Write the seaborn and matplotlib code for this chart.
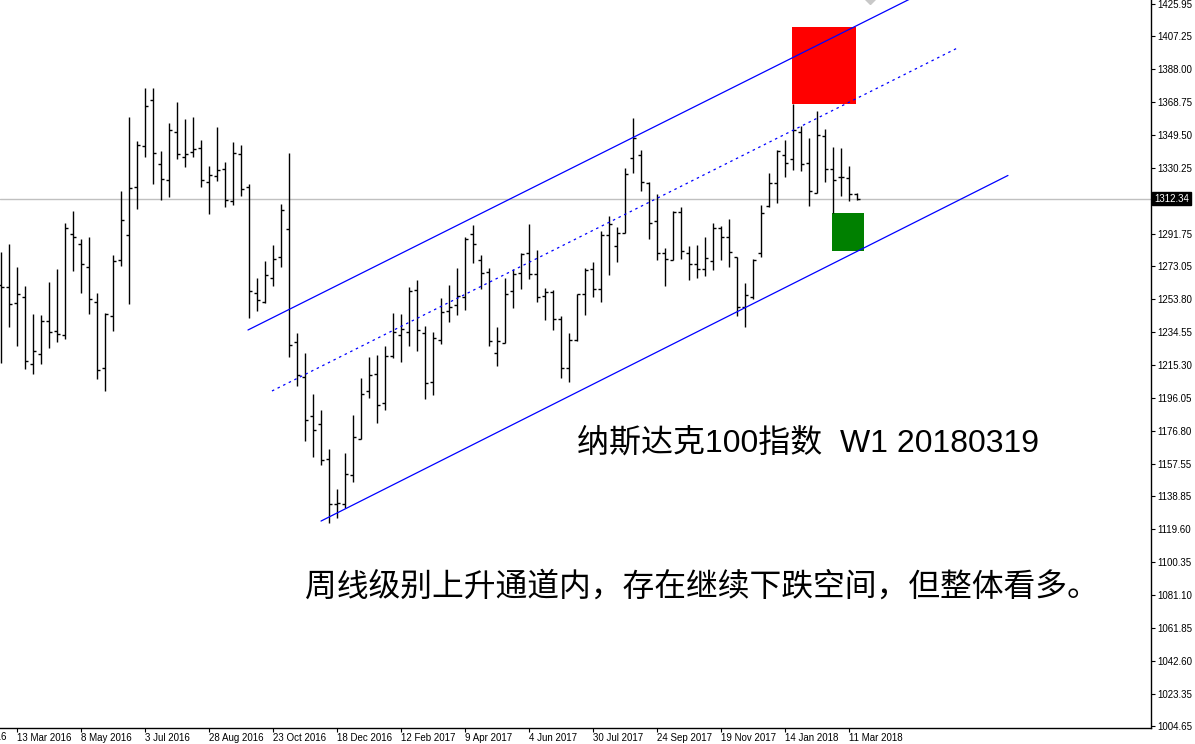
import numpy as np
import pandas as pd
import matplotlib
matplotlib.use("Agg")
import matplotlib.pyplot as plt
import matplotlib.transforms as mtransforms
from matplotlib.patches import Rectangle
import seaborn as sns

# ---------------- data (weekly OHLC) ----------------
opens = [1262.0, 1260.9, 1251.2, 1255.1, 1215.6, 1221.4, 1240.9, 1234.9, 1232.9, 1291.4,
         1285.6, 1272.4, 1251.8, 1213.3, 1243.8, 1276.5, 1290.9, 1318.9, 1343.0, 1369.8,
         1332.5, 1323.1, 1351.1, 1336.4, 1339.5, 1341.8, 1321.8, 1325.3, 1329.6, 1310.7,
         1338.1, 1319.3, 1257.0, 1252.1, 1266.0, 1278.2, 1294.4, 1228.8, 1208.0, 1185.5,
         1180.6, 1160.2, 1134.0, 1134.2, 1151.1, 1171.9, 1200.3, 1209.8, 1192.9, 1220.5,
         1232.7, 1234.3, 1258.8, 1233.7, 1205.5, 1229.6, 1246.5, 1250.0, 1254.7, 1291.8,
         1276.5, 1269.5, 1222.0, 1227.9, 1258.4, 1268.7, 1280.4, 1268.1, 1255.3, 1257.6,
         1241.9, 1213.3, 1229.6, 1256.8, 1271.0, 1259.6, 1290.9, 1284.6, 1292.4, 1335.8,
         1338.0, 1321.2, 1299.0, 1280.8, 1276.3, 1304.3, 1280.8, 1274.0, 1271.1, 1275.9,
         1294.9, 1289.7, 1278.0, 1248.9, 1255.1, 1280.4, 1308.2, 1321.2, 1337.5, 1335.2,
         1351.1, 1332.9, 1315.8, 1348.8, 1329.8, 1324.7, 1324.3, 1315.0]
highs = [1280.9, 1285.8, 1272.2, 1261.3, 1245.0, 1244.4, 1263.6, 1271.0, 1297.9, 1305.1,
         1288.7, 1289.7, 1257.0, 1245.4, 1279.4, 1316.7, 1359.9, 1345.9, 1376.8, 1376.8,
         1340.1, 1356.4, 1368.6, 1358.7, 1359.9, 1346.5, 1331.5, 1354.1, 1333.5, 1345.3,
         1343.6, 1320.8, 1266.2, 1276.1, 1285.2, 1309.1, 1338.7, 1234.1, 1222.4, 1198.3,
         1189.0, 1166.2, 1142.9, 1164.1, 1186.1, 1207.6, 1219.9, 1221.3, 1226.3, 1245.6,
         1245.0, 1260.5, 1264.8, 1238.0, 1234.3, 1254.3, 1261.9, 1271.8, 1289.9, 1296.9,
         1279.4, 1271.6, 1237.6, 1266.0, 1271.2, 1280.4, 1297.5, 1282.3, 1259.9, 1258.8,
         1243.8, 1234.1, 1256.8, 1271.6, 1275.3, 1293.4, 1302.1, 1295.7, 1329.9, 1359.3,
         1340.6, 1322.2, 1315.0, 1283.6, 1304.9, 1307.6, 1284.6, 1285.2, 1289.9, 1298.1,
         1296.5, 1300.3, 1278.0, 1263.1, 1277.1, 1308.6, 1327.0, 1340.6, 1346.5, 1367.5,
         1354.6, 1347.6, 1363.4, 1352.9, 1342.4, 1342.0, 1331.3, 1315.8]
lows = [1216.2, 1237.6, 1226.5, 1212.7, 1209.8, 1215.6, 1224.9, 1228.4, 1230.6, 1269.9,
        1257.4, 1244.8, 1207.3, 1200.3, 1235.3, 1273.2, 1251.0, 1306.4, 1336.8, 1321.0,
        1311.7, 1313.4, 1335.6, 1330.9, 1336.8, 1319.3, 1303.5, 1322.6, 1307.2, 1308.8,
        1314.0, 1242.5, 1246.9, 1251.2, 1261.1, 1272.2, 1219.7, 1203.2, 1171.1, 1161.4,
        1156.7, 1122.9, 1126.2, 1131.6, 1146.8, 1171.9, 1196.2, 1181.2, 1188.8, 1219.5,
        1217.2, 1226.5, 1223.6, 1195.6, 1197.9, 1227.5, 1240.3, 1244.4, 1247.5, 1274.9,
        1259.8, 1226.5, 1214.9, 1227.9, 1248.7, 1259.6, 1265.6, 1252.2, 1241.5, 1235.6,
        1207.8, 1205.5, 1229.4, 1244.6, 1255.1, 1252.2, 1267.9, 1275.5, 1292.0, 1327.5,
        1316.9, 1288.9, 1276.7, 1261.3, 1276.3, 1277.1, 1264.6, 1266.2, 1267.2, 1270.8,
        1276.3, 1272.4, 1243.9, 1237.2, 1253.7, 1278.0, 1307.2, 1309.5, 1325.1, 1329.0,
        1328.6, 1308.0, 1315.4, 1322.2, 1303.7, 1314.0, 1310.7, 1311.5]
closes = [1260.9, 1250.8, 1256.5, 1217.6, 1223.4, 1240.9, 1234.5, 1233.3, 1294.9, 1289.7,
          1273.9, 1253.5, 1212.3, 1245.0, 1275.9, 1299.8, 1318.3, 1343.4, 1366.3, 1338.7,
          1323.5, 1352.3, 1338.1, 1338.3, 1341.0, 1323.1, 1326.1, 1329.0, 1311.3, 1338.7,
          1317.7, 1258.4, 1253.1, 1267.5, 1277.3, 1305.4, 1226.9, 1209.4, 1183.2, 1177.3,
          1159.8, 1134.2, 1134.5, 1151.7, 1173.4, 1198.1, 1209.2, 1191.9, 1220.5, 1234.3,
          1236.0, 1258.6, 1235.5, 1204.9, 1230.8, 1246.1, 1248.9, 1255.5, 1288.7, 1285.6,
          1268.9, 1229.0, 1229.0, 1256.5, 1268.3, 1280.0, 1268.1, 1254.7, 1257.6, 1242.1,
          1213.3, 1229.6, 1256.5, 1270.7, 1259.6, 1290.9, 1297.3, 1292.4, 1326.6, 1347.5,
          1321.8, 1297.9, 1280.8, 1276.9, 1304.3, 1281.5, 1274.0, 1271.1, 1277.5, 1294.9,
          1289.7, 1281.0, 1249.0, 1256.1, 1276.5, 1303.7, 1321.6, 1340.0, 1332.9, 1352.3,
          1332.3, 1316.9, 1349.2, 1329.8, 1323.0, 1324.7, 1315.0, 1312.34]

current_price = 1312.34

date_labels = ["17 Jan 2016", "13 Mar 2016", "8 May 2016", "3 Jul 2016", "28 Aug 2016",
               "23 Oct 2016", "18 Dec 2016", "12 Feb 2017", "9 Apr 2017", "4 Jun 2017",
               "30 Jul 2017", "24 Sep 2017", "19 Nov 2017", "14 Jan 2018", "11 Mar 2018"]
date_bar_index = [-6, 2, 10, 18, 26, 34, 42, 50, 58, 66, 74, 82, 90, 98, 106]

price_ticks = [1425.95, 1407.25, 1388.00, 1368.75, 1349.50, 1330.25, 1291.75, 1273.05,
               1253.80, 1234.55, 1215.30, 1196.05, 1176.80, 1157.55, 1138.85, 1119.60,
               1100.35, 1081.10, 1061.85, 1042.60, 1023.35, 1004.65]

# trend channel anchors (bar index, price)
channel_line = ["upper", "upper", "mid", "mid", "lower", "lower"]
channel_bar = [30.91, 119.9, 33.91, 119.66, 40.04, 125.91]
channel_price = [1235.65, 1443.3, 1200.07, 1400.3, 1124.2, 1325.8]

# target zones: (left bar, right bar, low price, high price)
red_zone = [98.9, 106.9, 1367.5, 1412.6]
green_zone = [103.9, 107.9, 1281.9, 1304.1]

title_text = "纳斯达克100指数  W1 20180319"
note_text = "周线级别上升通道内，存在继续下跌空间，但整体看多。"

# ---------------- figure ----------------
sns.set_theme(style="white")
plt.rcParams["font.family"] = ["Liberation Sans", "Noto Sans CJK SC", "DejaVu Sans"]

W, H = 1195, 744
fig = plt.figure(figsize=(W / 100, H / 100), dpi=100)
fig.patch.set_facecolor("white")
ax = fig.add_axes([0, 16 / H, 1151 / W, 728 / H])
ax.set_facecolor("white")

n = len(opens)
idx = np.arange(n)
df = pd.DataFrame({"bar": idx, "open": opens, "high": highs, "low": lows, "close": closes})

# current price line
ax.axhline(current_price, color="#c0c0c0", lw=1.0, zorder=1)

# zones
ax.add_patch(Rectangle((red_zone[0], red_zone[2]), red_zone[1] - red_zone[0],
                       red_zone[3] - red_zone[2], facecolor="#ff0000", edgecolor="none", zorder=2))
ax.add_patch(Rectangle((green_zone[0], green_zone[2]), green_zone[1] - green_zone[0],
                       green_zone[3] - green_zone[2], facecolor="#008000", edgecolor="none", zorder=2))

# OHLC bars
tick_w = 0.38
ax.vlines(df["bar"], df["low"], df["high"], color="black", lw=1.0, zorder=3)
ax.hlines(df["open"], df["bar"] - tick_w, df["bar"], color="black", lw=1.0, zorder=3)
ax.hlines(df["close"], df["bar"], df["bar"] + tick_w, color="black", lw=1.0, zorder=3)

# channel lines via seaborn
ch = pd.DataFrame({"bar": channel_bar, "price": channel_price, "line": channel_line})
sns.lineplot(data=ch, x="bar", y="price", hue="line", style="line", units="line",
             estimator=None, sort=False, legend=False, ax=ax,
             palette={"upper": "#0000ff", "mid": "#0000ff", "lower": "#0000ff"},
             dashes={"upper": "", "mid": (2, 3), "lower": ""}, lw=0.9, zorder=4)
ax.set_xlabel("")
ax.set_ylabel("")

# small grey marker at top
ax.plot([108.66], [1428.9], marker="D", color="#c8c8c8", ms=5, clip_on=True, zorder=2)

# axes limits (pixel calibrated)
ax.set_xlim(-0.0875, 143.79)
ax.set_ylim(1003.48, 1428.15)

# spines
for s in ["top", "left"]:
    ax.spines[s].set_visible(False)
for s in ["right", "bottom"]:
    ax.spines[s].set_visible(True)
    ax.spines[s].set_color("black")
    ax.spines[s].set_linewidth(1.0)

# y ticks on right
ax.yaxis.tick_right()
ax.set_yticks(price_ticks)
ax.set_yticklabels([f"{v:.2f}" for v in price_ticks])
ax.tick_params(axis="y", which="both", right=True, left=False, direction="out",
               length=3, width=0.8, pad=1.5, labelsize=7, colors="black")

# x ticks
vis = [(b, l) for b, l in zip(date_bar_index, date_labels) if b >= 0]
ax.set_xticks([b for b, _ in vis])
ax.set_xticklabels([l for _, l in vis])
for lbl in ax.get_xticklabels():
    lbl.set_horizontalalignment("left")
ax.tick_params(axis="x", which="both", bottom=True, top=False, direction="out",
               length=3, width=0.8, pad=0.8, labelsize=7, colors="black")
trans = mtransforms.blended_transform_factory(ax.transData, ax.transAxes)
for b, l in zip(date_bar_index, date_labels):
    if b < 0:
        ax.text(b, -0.0055, l, transform=trans, ha="left", va="top", fontsize=7,
                color="black", clip_on=False)
ax.grid(False)

# current price label
tr2 = mtransforms.blended_transform_factory(ax.transAxes, ax.transData)
ax.text(1.0025, current_price, f"{current_price:.2f}", transform=tr2, ha="left", va="center",
        fontsize=7, color="white", clip_on=False, zorder=10,
        bbox=dict(boxstyle="square,pad=0.2", fc="black", ec="black"))

# annotations
fig.text(577 / W, 1 - 452 / H, title_text, fontsize=23, color="black",
         ha="left", va="baseline")
fig.text(305 / W, 1 - 587 / H, note_text, fontsize=22.9, color="black",
         ha="left", va="center", family=["Noto Sans CJK SC", "DejaVu Sans"])

fig.savefig("out.png", dpi=100, facecolor="white")
